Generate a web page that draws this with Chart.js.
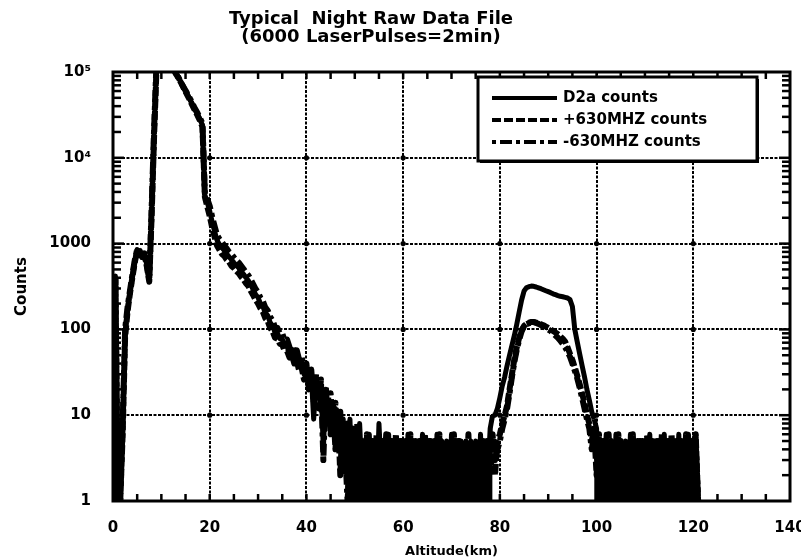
<!DOCTYPE html>
<html>
<head>
<meta charset="utf-8">
<title>Typical Night Raw Data File</title>
<script src="https://cdn.jsdelivr.net/npm/chart.js@4.4.0/dist/chart.umd.min.js"></script>
<style>
  body { margin: 0; background: #fff; }
</style>
</head>
<body>
<canvas id="rawChart" width="801" height="560"></canvas>
<script>
// range bins of the raw file, 0.5 km apart starting at 0 km
var altStepKm = 0.5;

var seriesLabels = ['D2a counts', '+630MHZ counts', '-630MHZ counts'];

var d2aCounts = [
	1, 420, 1, 1, 7, 90, 170, 270, 420, 620,                                // 0 km
	850, 820, 690, 760, 560, 370, 2500, 20000, 120000, 170000,             // 5
	190000, 190000, 180000, 160000, 140000, 115000, 98000, 88000, 77000, 68000, // 10
	60000, 53000, 47000, 41000, 36000, 32000, 28000, 24000, 3600, 3000,    // 15
	2400, 1800, 1400, 1100, 980, 900, 830, 760, 700, 650,                  // 20
	600, 560, 520, 480, 440, 400, 370, 330, 290, 255,                      // 25
	235, 200, 185, 155, 145, 120, 110, 92, 90, 78,                         // 30
	78, 64, 66, 54, 58, 46, 50, 38, 42, 30,                                // 35
	36, 24, 30, 9, 26, 18, 22, 4, 20, 10,                                  // 40
	14, 8, 12, 5, 10, 3, 7, 2, 9, 1,                                       // 45
	6, 1, 8, 2, 5, 1, 6, 1, 5, 1,                                          // 50
	8, 2, 5, 1, 6, 1, 5, 1, 5, 2,                                          // 55
	5, 1, 6, 1, 5, 1, 5, 1, 6, 2,                                          // 60
	5, 1, 5, 1, 6, 1, 5, 1, 5, 1,                                          // 65
	6, 2, 5, 1, 5, 1, 5, 1, 5, 1,                                          // 70
	5, 1, 6, 1, 5, 2, 7, 10, 10, 12,                                       // 75
	16, 22, 28, 38, 50, 65, 85, 115, 160, 220,                             // 80
	280, 305, 315, 320, 318, 312, 305, 298, 290, 282,                      // 85
	275, 268, 260, 254, 248, 243, 240, 236, 232, 222,                      // 90
	185, 100, 72, 52, 38, 28, 20, 15, 11, 9,                               // 95
	7, 1, 5, 2, 6, 1, 5, 1, 6, 2,                                          // 100
	5, 1, 5, 1, 6, 1, 5, 1, 5, 2,                                          // 105
	5, 1, 6, 1, 5, 1, 5, 2, 6, 1,                                          // 110
	5, 1, 5, 1, 6, 1, 5, 2, 6, 1,                                          // 115
	5, 6, 1                                                                // 120
];

var plus630Counts = [
	1, 380, 1, 1, 6, 80, 160, 260, 400, 600,
	830, 800, 670, 740, 540, 360, 2200, 18000, 110000, 160000,
	180000, 180000, 170000, 150000, 130000, 110000, 95000, 86000, 76000, 67000,
	59000, 52000, 46000, 40000, 35000, 31000, 27000, 23000, 3500, 2700,
	2100, 1550, 1200, 950, 850, 760, 720, 650, 610, 550,
	520, 480, 450, 410, 380, 345, 320, 280, 250, 220,
	200, 175, 160, 135, 125, 104, 95, 80, 78, 68,
	66, 56, 56, 47, 50, 40, 43, 33, 36, 26,
	28, 34, 20, 28, 16, 24, 12, 21, 8, 16,
	6, 13, 4, 11, 2, 9, 2, 8, 1, 6,
	2, 8, 1, 5, 1, 6, 2, 5, 1, 6,
	1, 5, 2, 6, 1, 5, 1, 6, 1, 5,
	2, 5, 1, 6, 1, 5, 1, 5, 1, 6,
	2, 5, 1, 5, 1, 6, 2, 5, 1, 5,
	1, 6, 1, 5, 2, 5, 1, 6, 1, 5,
	1, 5, 2, 5, 1, 5, 3, 6, 2, 5,
	6, 8, 10, 13, 20, 30, 45, 62, 80, 98,
	110, 116, 120, 122, 122, 120, 118, 115, 112, 108,
	104, 100, 96, 92, 88, 83, 78, 72, 62, 52,
	44, 36, 29, 23, 18, 14, 10, 8, 5, 7,
	2, 6, 1, 5, 2, 6, 1, 5, 1, 6,
	2, 5, 1, 5, 2, 6, 1, 5, 1, 5,
	2, 6, 1, 5, 1, 5, 2, 6, 1, 5,
	1, 6, 2, 5, 1, 5, 1, 6, 2, 5,
	1, 6, 1
];

var minus630Counts = [
	1, 400, 1, 1, 8, 100, 180, 280, 430, 640,
	860, 830, 700, 770, 570, 380, 2700, 22000, 130000, 175000,
	185000, 185000, 175000, 155000, 135000, 118000, 97000, 87000, 77000, 68000,
	61000, 54000, 48000, 42000, 37000, 33000, 29000, 25000, 3800, 3300,
	2750, 2050, 1600, 1260, 1130, 1040, 950, 880, 800, 750,
	690, 640, 600, 550, 505, 460, 425, 380, 335, 295,
	270, 232, 212, 180, 166, 140, 126, 106, 104, 90,
	90, 74, 76, 62, 66, 53, 57, 44, 48, 35,
	40, 20, 34, 14, 30, 12, 26, 3, 22, 8,
	18, 6, 14, 4, 11, 2, 4, 1, 3, 7,
	1, 4, 2, 5, 1, 4, 2, 5, 1, 4,
	2, 5, 1, 4, 2, 5, 1, 4, 1, 5,
	2, 4, 1, 5, 2, 4, 1, 5, 2, 4,
	1, 5, 2, 4, 1, 5, 2, 4, 1, 5,
	2, 4, 1, 5, 2, 4, 1, 5, 2, 4,
	1, 5, 2, 4, 1, 5, 2, 5, 3, 4,
	5, 7, 9, 12, 18, 28, 42, 58, 76, 95,
	108, 115, 118, 120, 121, 119, 116, 112, 108, 104,
	100, 96, 90, 85, 80, 74, 68, 62, 55, 48,
	40, 33, 27, 21, 16, 12, 9, 7, 4, 6,
	4, 1, 5, 2, 4, 1, 5, 2, 4, 1,
	5, 2, 4, 1, 5, 2, 4, 1, 5, 2,
	4, 1, 5, 2, 4, 1, 5, 2, 4, 1,
	5, 2, 4, 1, 5, 2, 4, 1, 5, 2,
	4, 5, 1
];

// altitude spans (km) where the signal sits on the background floor
var floorSpans = [[48, 78.5], [99.5, 121]];

var xTicks = [0, 20, 40, 60, 80, 100, 120, 140];
var yTicks = [1, 10, 100, 1000, 10000, 100000];
var yTickLabels = ['1', '10', '100', '1000', '10⁴', '10⁵'];

var boldFont = 'DejaVu Sans';

function toPoints(counts) {
	return counts.map(function(c, i) { return {x: i * altStepKm, y: c}; });
}

function inner(arr) { return arr.slice(1, arr.length - 1); }

function onFloor(km) {
	return floorSpans.some(function(s) { return km >= s[0] && km < s[1]; });
}

// shade under the trace where it rides the noise floor
var floorShade = {
	backgroundColor: function(c) { return onFloor(c.p0.parsed.x) ? '#000' : undefined; }
};

function tickLine(ctx, x1, y1, x2, y2) {
	ctx.beginPath();
	ctx.moveTo(x1, y1);
	ctx.lineTo(x2, y2);
	ctx.stroke();
}

// frame, inward tick marks on all four sides, grid crossing dots and the boxed legend
var frameDecor = {
	id: 'frameDecor',
	afterLayout: function(chart) {
		var t = chart.titleBlock;
		if (t) { t.left = 0; t.right = 742; }
	},
	beforeDatasetsDraw: function(chart) {
		var ctx = chart.ctx, x = chart.scales.x, y = chart.scales.y;
		ctx.save();
		ctx.fillStyle = '#000';
		inner(xTicks).forEach(function(xv) {
			inner(yTicks).forEach(function(yv) {
				ctx.beginPath();
				ctx.arc(x.getPixelForValue(xv), y.getPixelForValue(yv), 2.6, 0, 2 * Math.PI);
				ctx.fill();
			});
		});
		ctx.restore();
	},
	afterDraw: function(chart) {
		var ctx = chart.ctx, a = chart.chartArea, x = chart.scales.x, y = chart.scales.y;
		ctx.save();
		ctx.setLineDash([]);
		ctx.strokeStyle = '#000';
		ctx.lineWidth = 2.5;
		// x ticks every 5 km
		for (var km = 5; km < 140; km += 5) {
			var px = x.getPixelForValue(km);
			tickLine(ctx, px, a.bottom, px, a.bottom - 7);
			tickLine(ctx, px, a.top, px, a.top + 7);
		}
		// log minor and major ticks, left and right
		for (var d = 0; d < yTicks.length - 1; d++) {
			for (var m = 1; m <= 9; m++) {
				if (m === 1 && d === 0) continue;
				var py = y.getPixelForValue(yTicks[d] * m);
				var len = m === 1 ? 11 : 8;
				tickLine(ctx, a.left, py, a.left + len, py);
				tickLine(ctx, a.right, py, a.right - len, py);
			}
		}

		ctx.lineWidth = 3;
		ctx.strokeRect(a.left, a.top, a.right - a.left, a.bottom - a.top);

		// legend box
		var bx = a.right - 312, by = a.top + 5, bw = 279, bh = 84;
		ctx.fillStyle = '#000';
		ctx.fillRect(bx + 2, by + 2, bw, bh);
		ctx.fillStyle = '#fff';
		ctx.fillRect(bx, by, bw, bh);
		ctx.lineWidth = 3;
		ctx.strokeRect(bx, by, bw, bh);

		ctx.font = 'bold 15px ' + boldFont;
		ctx.textBaseline = 'middle';
		ctx.textAlign = 'left';
		chart.data.datasets.forEach(function(ds, i) {
			var ly = by + 21 + i * 22;
			ctx.beginPath();
			ctx.setLineDash(ds.borderDash || []);
			ctx.lineWidth = 4;
			ctx.moveTo(bx + 14, ly);
			ctx.lineTo(bx + 79, ly);
			ctx.stroke();
			ctx.setLineDash([]);
			ctx.fillStyle = '#000';
			ctx.fillText(ds.label, bx + 85, ly);
		});
		ctx.restore();
	}
};

var gridLines = { color: '#000', lineWidth: 2, drawTicks: false };
var gridBorder = { display: false, dash: [3, 1.5] };

new Chart(document.getElementById('rawChart'), {
	type: 'line',
	data: {
		datasets: [
			{
				label: seriesLabels[0],
				data: toPoints(d2aCounts),
				borderColor: '#000',
				backgroundColor: 'rgba(0,0,0,0)',
				borderWidth: 5,
				fill: 'start',
				segment: floorShade
			},
			{
				label: seriesLabels[1],
				data: toPoints(plus630Counts),
				borderColor: '#000',
				borderWidth: 6,
				borderDash: [9, 3]
			},
			{
				label: seriesLabels[2],
				data: toPoints(minus630Counts),
				borderColor: '#000',
				borderWidth: 6,
				borderDash: [4, 4, 12, 4]
			}
		]
	},
	options: {
		responsive: false,
		animation: false,
		devicePixelRatio: 1,
		elements: {
			point: { radius: 0 },
			line: { tension: 0, borderJoinStyle: 'round' }
		},
		layout: { padding: { left: 0, right: 11, top: 0, bottom: 0 } },
		scales: {
			x: {
				type: 'linear',
				min: 0,
				max: 140,
				afterBuildTicks: function(s) { s.ticks = xTicks.map(function(v) { return {value: v}; }); },
				afterFit: function(s) { s.height = 59; s.paddingLeft = 0; s.paddingRight = 0; },
				grid: gridLines,
				border: gridBorder,
				ticks: {
					padding: 18,
					color: '#000',
					font: { family: boldFont, size: 15, weight: 'bold' },
					callback: function(v) { return String(v); }
				},
				title: {
					display: true,
					text: 'Altitude(km)',
					color: '#000',
					font: { family: boldFont, size: 13, weight: 'bold' },
					padding: { top: 0, bottom: 1 }
				}
			},
			y: {
				type: 'logarithmic',
				min: 1,
				max: 100000,
				afterBuildTicks: function(s) { s.ticks = yTicks.map(function(v) { return {value: v}; }); },
				afterFit: function(s) { s.width = 113; },
				grid: gridLines,
				border: gridBorder,
				ticks: {
					padding: 22,
					color: '#000',
					font: { family: boldFont, size: 15, weight: 'bold' },
					callback: function(v) { return yTickLabels[yTicks.indexOf(v)]; }
				},
				title: {
					display: true,
					text: 'Counts',
					color: '#000',
					font: { family: boldFont, size: 15, weight: 'bold' },
					padding: { top: 13, bottom: 0 }
				}
			}
		},
		plugins: {
			legend: { display: false },
			tooltip: { enabled: false },
			title: {
				display: true,
				text: ['Typical  Night Raw Data File', '(6000 LaserPulses=2min)'],
				color: '#000',
				font: { family: boldFont, size: 18, weight: 'bold', lineHeight: 1 },
				padding: { top: 10, bottom: 26 }
			}
		}
	},
	plugins: [frameDecor]
});
</script>
</body>
</html>
